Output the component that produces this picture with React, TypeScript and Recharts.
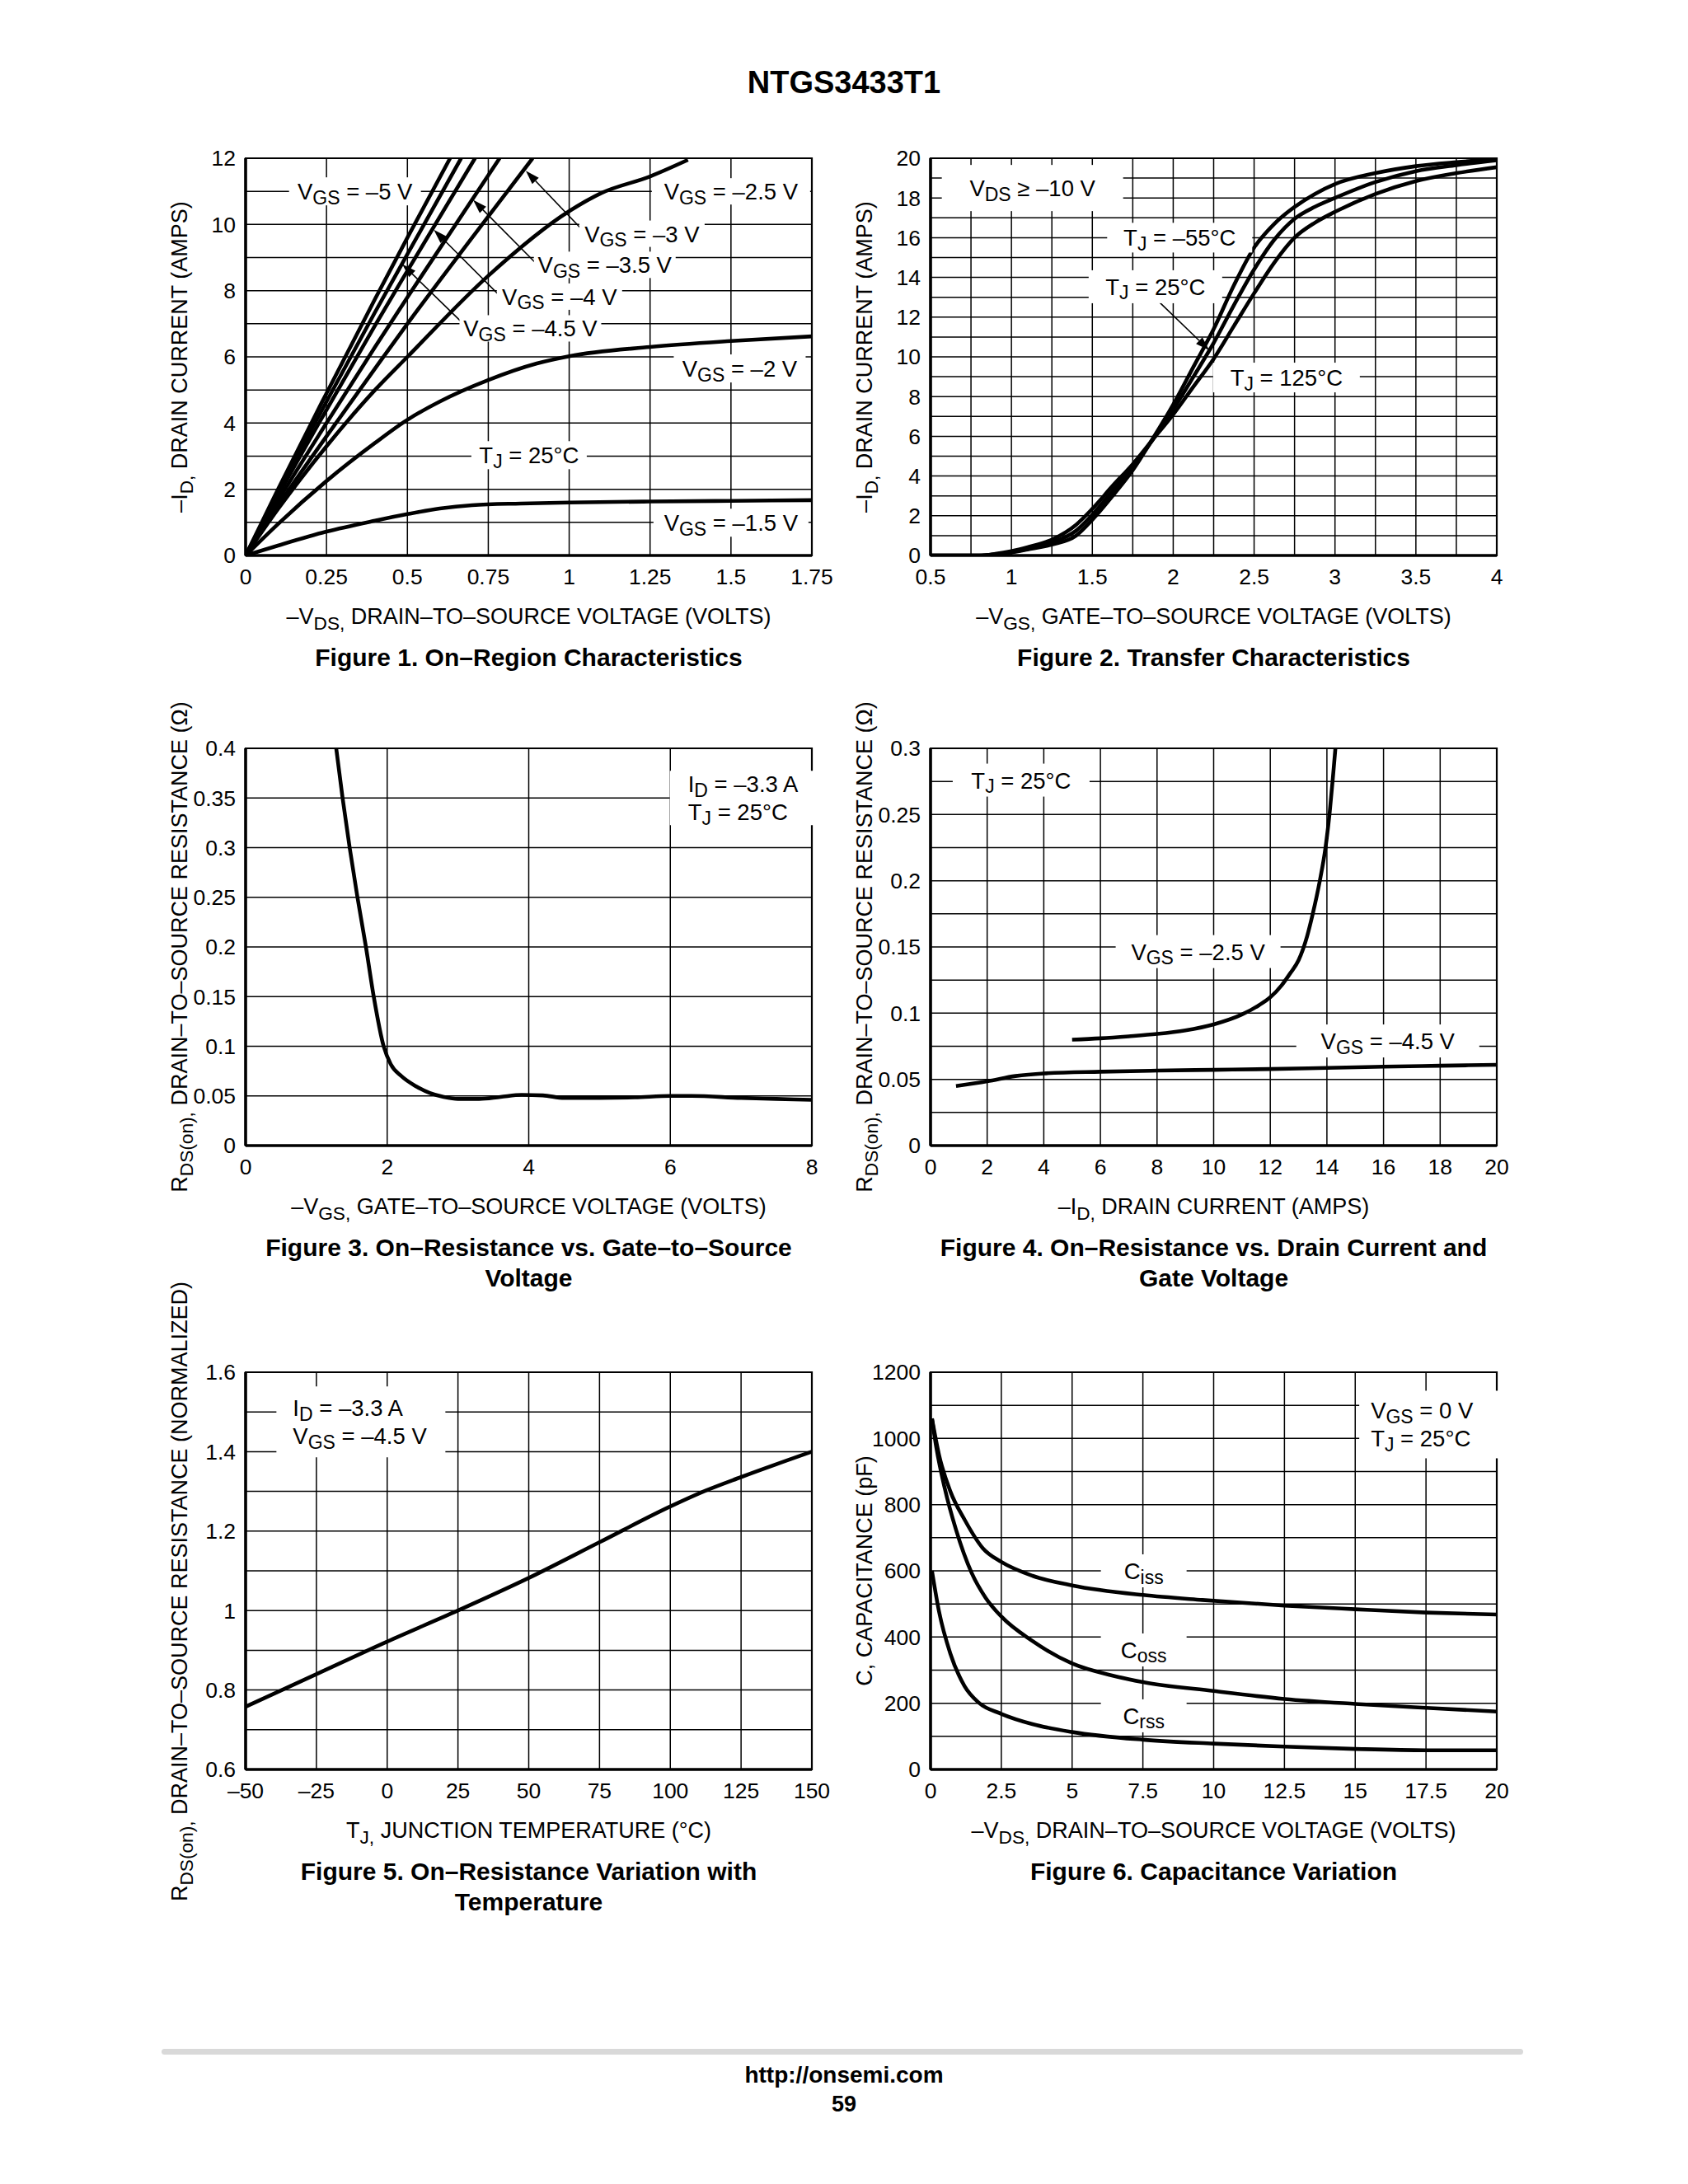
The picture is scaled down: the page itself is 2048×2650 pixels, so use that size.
import React from 'react';
import {
  LineChart,
  Line,
  XAxis,
  YAxis,
  CartesianGrid,
  ReferenceArea,
  ReferenceDot,
  ReferenceLine,
} from 'recharts';

const FONT = '"Liberation Sans", Arial, Helvetica, sans-serif';
const FS = 27.5;
const SUB_FS = 23;
const SUB_DY = 7.5;
const TITLE_FS = 27;

// ---------- Figure 1: On-Region Characteristics (-VDS, -ID)
const fig1XTicks = [0, 0.25, 0.5, 0.75, 1, 1.25, 1.5, 1.75];
const fig1YTicks = [0, 1, 2, 3, 4, 5, 6, 7, 8, 9, 10, 11, 12];
const fig1YLabels = [0, 2, 4, 6, 8, 10, 12];
const fig1Vgs50 = [[0, 0], [0.1, 2.0], [0.25, 4.9], [0.4, 7.75], [0.5, 9.6], [0.632, 12]];
const fig1Vgs45 = [[0, 0], [0.1, 1.9], [0.25, 4.65], [0.4, 7.35], [0.5, 9.1], [0.666, 12]];
const fig1Vgs40 = [[0, 0], [0.1, 1.8], [0.25, 4.4], [0.4, 6.95], [0.5, 8.6], [0.709, 12]];
const fig1Vgs35 = [[0, 0], [0.1, 1.65], [0.25, 4.0], [0.4, 6.3], [0.5, 7.8], [0.785, 12]];
const fig1Vgs30 = [[0, 0], [0.1, 1.5], [0.25, 3.6], [0.4, 5.65], [0.5, 7.0], [0.7, 9.6], [0.887, 12]];
const fig1Vgs25 = [[0, 0], [0.1, 1.4], [0.25, 3.3], [0.4, 5.0], [0.5, 6.0], [0.75, 8.45], [1.0, 10.4], [1.1, 10.95], [1.25, 11.45], [1.367, 11.95]];
const fig1Vgs20 = [[0, 0], [0.1, 0.95], [0.25, 2.25], [0.4, 3.4], [0.5, 4.1], [0.6, 4.65], [0.75, 5.3], [0.9, 5.8], [1.0, 6.02], [1.25, 6.3], [1.5, 6.48], [1.75, 6.62]];
const fig1Vgs15 = [[0, 0], [0.1, 0.3], [0.25, 0.72], [0.4, 1.05], [0.5, 1.25], [0.6, 1.42], [0.7, 1.52], [0.85, 1.57], [1.0, 1.6], [1.25, 1.63], [1.5, 1.65], [1.75, 1.67]];

// ---------- Figure 2: Transfer Characteristics (-VGS, -ID)
const fig2XTicks = [0.5, 0.75, 1, 1.25, 1.5, 1.75, 2, 2.25, 2.5, 2.75, 3, 3.25, 3.5, 3.75, 4];
const fig2XLabels = [0.5, 1, 1.5, 2, 2.5, 3, 3.5, 4];
const fig2YTicks = [0, 1, 2, 3, 4, 5, 6, 7, 8, 9, 10, 11, 12, 13, 14, 15, 16, 17, 18, 19, 20];
const fig2YLabels = [0, 2, 4, 6, 8, 10, 12, 14, 16, 18, 20];
const fig2TjM55 = [[0.5, 0], [0.8, 0], [0.9, 0.05], [1.0, 0.15], [1.1, 0.3], [1.25, 0.55], [1.4, 1.0], [1.5, 1.8], [1.625, 3.0], [1.75, 4.3], [1.875, 5.9], [2.0, 7.6], [2.125, 9.5], [2.25, 11.4], [2.375, 13.6], [2.5, 15.5], [2.625, 16.7], [2.75, 17.55], [2.875, 18.2], [3.0, 18.7], [3.25, 19.25], [3.5, 19.6], [3.75, 19.8], [4.0, 19.95]];
const fig2Tj25 = [[0.5, 0], [0.8, 0], [0.9, 0.06], [1.0, 0.17], [1.1, 0.33], [1.25, 0.65], [1.4, 1.25], [1.5, 2.05], [1.625, 3.25], [1.75, 4.45], [1.875, 5.85], [2.0, 7.35], [2.125, 9.0], [2.25, 10.7], [2.375, 12.6], [2.5, 14.4], [2.625, 15.9], [2.75, 16.95], [2.875, 17.55], [3.0, 18.0], [3.25, 18.8], [3.5, 19.35], [3.75, 19.65], [4.0, 19.9]];
const fig2Tj125 = [[0.5, 0], [0.8, 0], [0.9, 0.08], [1.0, 0.22], [1.1, 0.42], [1.25, 0.8], [1.4, 1.55], [1.5, 2.35], [1.625, 3.5], [1.75, 4.6], [1.875, 5.85], [2.0, 7.1], [2.125, 8.5], [2.25, 9.9], [2.375, 11.55], [2.5, 13.2], [2.625, 14.75], [2.75, 16.0], [2.875, 16.75], [3.0, 17.3], [3.25, 18.2], [3.5, 18.85], [3.75, 19.25], [4.0, 19.55]];

// ---------- Figure 3: On-Resistance vs. Gate-to-Source Voltage
const fig3XTicks = [0, 2, 4, 6, 8];
const fig3YTicks = [0, 0.05, 0.1, 0.15, 0.2, 0.25, 0.3, 0.35, 0.4];
const fig3Rds = [[1.28, 0.4], [1.37, 0.35], [1.47, 0.3], [1.58, 0.25], [1.7, 0.2], [1.81, 0.15], [1.95, 0.1], [2.05, 0.082], [2.2, 0.07], [2.4, 0.06], [2.6, 0.053], [2.8, 0.049], [3.0, 0.047], [3.3, 0.047], [3.6, 0.049], [3.9, 0.051], [4.2, 0.0505], [4.5, 0.048], [5.0, 0.048], [5.5, 0.0485], [6.0, 0.05], [6.3, 0.05], [7.0, 0.048], [7.5, 0.047], [8.0, 0.046]];

// ---------- Figure 4: On-Resistance vs. Drain Current and Gate Voltage
const fig4XTicks = [0, 2, 4, 6, 8, 10, 12, 14, 16, 18, 20];
const fig4YTicks = [0, 0.025, 0.05, 0.075, 0.1, 0.125, 0.15, 0.175, 0.2, 0.225, 0.25, 0.275, 0.3];
const fig4YLabels = [0, 0.05, 0.1, 0.15, 0.2, 0.25, 0.3];
const fig4Vgs45 = [[0.9, 0.045], [2.0, 0.0485], [3.0, 0.0525], [4.0, 0.0545], [6.0, 0.0558], [8.0, 0.0566], [10.0, 0.0572], [12.0, 0.0578], [14.0, 0.0587], [16.0, 0.0596], [18.0, 0.0603], [20.0, 0.061]];
const fig4Vgs25 = [[5.0, 0.08], [6.0, 0.081], [7.0, 0.0825], [8.0, 0.0843], [9.0, 0.087], [10.0, 0.0915], [11.0, 0.099], [11.6, 0.106], [12.0, 0.112], [12.4, 0.121], [12.7, 0.13], [13.0, 0.14], [13.3, 0.158], [13.5, 0.175], [13.75, 0.2], [13.95, 0.225], [14.1, 0.252], [14.22, 0.28], [14.3, 0.3]];

// ---------- Figure 5: On-Resistance Variation with Temperature
const fig5XTicks = [-50, -25, 0, 25, 50, 75, 100, 125, 150];
const fig5YTicks = [0.6, 0.7, 0.8, 0.9, 1, 1.1, 1.2, 1.3, 1.4, 1.5, 1.6];
const fig5YLabels = [0.6, 0.8, 1, 1.2, 1.4, 1.6];
const fig5Rds = [[-50, 0.758], [-25, 0.84], [0, 0.922], [25, 1.0], [50, 1.082], [75, 1.172], [100, 1.262], [112.5, 1.302], [125, 1.336], [150, 1.4]];

// ---------- Figure 6: Capacitance Variation
const fig6XTicks = [0, 2.5, 5, 7.5, 10, 12.5, 15, 17.5, 20];
const fig6YTicks = [0, 100, 200, 300, 400, 500, 600, 700, 800, 900, 1000, 1100, 1200];
const fig6YLabels = [0, 200, 400, 600, 800, 1000, 1200];
const fig6Ciss = [[0.05, 1060], [0.3, 950], [0.7, 840], [1.2, 755], [1.85, 668], [2.5, 627], [3.6, 585], [5.0, 556], [7.5, 527], [9.6, 512], [12.5, 495], [15, 484], [17.5, 474], [20, 468]];
const fig6Coss = [[0.05, 1060], [0.2, 975], [0.5, 850], [0.9, 724], [1.45, 594], [1.95, 518], [2.5, 462], [3.6, 388], [5.0, 320], [6.5, 282], [7.5, 264], [10, 237], [12.5, 213], [15, 198], [17.5, 186], [20, 175]];
const fig6Crss = [[0.05, 600], [0.3, 477], [0.7, 350], [1.2, 252], [1.7, 202], [2.5, 168], [3.6, 137], [5.0, 113], [7.5, 90], [10, 78], [12.5, 69], [15, 62], [17.5, 58], [20, 58]];

// ---------- layout
const PW = 687;
const PH = 482;
const PAD_L = 100;
const PAD_T = 20;
const PAD_R = 44;
const PAD_B = 52;
const Y_AXIS_W = 70;
const X_AXIS_H = 42;
const LINE_GAP = 34;

const TICK = { fontSize: 26.5, fill: '#000', fontFamily: FONT };

interface Note {
  x: number;
  y: number;
  text: string[];
  w: number;
  h: number;
  anchor?: 'start' | 'middle';
  pad?: number;
}
interface Arrow {
  from: number[];
  to: number[];
}

const fmt = (labels: number[]) => (v: number) =>
  labels.includes(v) ? String(v).replace('-', '–') : '';

// "V_GS_ = 1" -> V + subscript GS + " = 1"
const Rich = ({ s }: { s: string }) => (
  <>
    {s.split('_').map((seg, i) =>
      i % 2 === 1 ? (
        <span key={i} style={{ fontSize: '0.84em', position: 'relative', top: '0.3em' }}>
          {seg}
        </span>
      ) : (
        <span key={i}>{seg}</span>
      ),
    )}
  </>
);

const svgRich = (s: string) =>
  s.split('_').map((seg, i) => (
    <tspan key={i} fontSize={i % 2 ? SUB_FS : FS} dy={i === 0 ? 0 : i % 2 ? SUB_DY : -SUB_DY}>
      {seg}
    </tspan>
  ));

const NoteBox = ({ cx, cy, n }: { cx: number; cy: number; n: Note }) => {
  const anchor = n.anchor ?? 'middle';
  const bx = anchor === 'start' ? cx - (n.pad ?? 10) : cx - n.w / 2;
  return (
    <g>
      <rect x={bx} y={cy - n.h / 2} width={n.w} height={n.h} fill="#fff" />
      {n.text.map((t, i) => (
        <text
          key={i}
          x={cx}
          y={cy + (i - (n.text.length - 1) / 2) * LINE_GAP}
          textAnchor={anchor}
          dominantBaseline="central"
          fontFamily={FONT}
          fontSize={FS}
          fill="#000"
          style={{ whiteSpace: 'pre' }}
        >
          {svgRich(t)}
        </text>
      ))}
    </g>
  );
};

// leader line: tail at (x1,y1), arrow head at (x2,y2)
const ArrowShape = (p: any) => {
  const { x1, y1, x2, y2 } = p;
  const ang = Math.atan2(y2 - y1, x2 - x1);
  const L = 17;
  const W = 5.5;
  const bx = x2 - L * Math.cos(ang);
  const by = y2 - L * Math.sin(ang);
  const px = -Math.sin(ang) * W;
  const py = Math.cos(ang) * W;
  return (
    <g>
      <line x1={x1} y1={y1} x2={bx} y2={by} stroke="#000" strokeWidth={1.6} />
      <polygon points={`${x2},${y2} ${bx + px},${by + py} ${bx - px},${by - py}`} fill="#000" />
    </g>
  );
};

const abs: React.CSSProperties = {
  position: 'absolute',
  whiteSpace: 'nowrap',
  lineHeight: 1,
  fontFamily: FONT,
  color: '#000',
};

interface PanelProps {
  left: number;
  top: number;
  xDomain: [number, number];
  yDomain: [number, number];
  xTicks: number[];
  xLabels: number[];
  yTicks: number[];
  yLabels: number[];
  series: number[][][];
  notes: Note[];
  arrows?: Arrow[];
  xTitle: string;
  yTitle: string;
  yTitleShift?: number;
  caption: string[];
}

function Panel(p: PanelProps) {
  const midX = p.left + PW / 2;
  const bottom = p.top + PH;
  return (
    <>
      <div style={{ position: 'absolute', left: p.left - PAD_L, top: p.top - PAD_T }}>
        <LineChart
          width={PW + PAD_L + PAD_R}
          height={PH + PAD_T + PAD_B}
          margin={{ top: PAD_T, right: PAD_R, bottom: PAD_B - X_AXIS_H, left: PAD_L - Y_AXIS_W }}
        >
          <CartesianGrid stroke="#000" strokeWidth={1.5} />
          <XAxis
            type="number"
            dataKey="x"
            domain={p.xDomain}
            ticks={p.xTicks}
            interval={0}
            allowDataOverflow
            height={X_AXIS_H}
            tickLine={false}
            tickSize={0}
            tickMargin={16}
            axisLine={{ stroke: '#000', strokeWidth: 3.6 }}
            tick={TICK}
            tickFormatter={fmt(p.xLabels)}
          />
          <YAxis
            type="number"
            dataKey="y"
            domain={p.yDomain}
            ticks={p.yTicks}
            interval={0}
            allowDataOverflow
            width={Y_AXIS_W}
            tickLine={false}
            tickSize={0}
            tickMargin={12}
            axisLine={{ stroke: '#000', strokeWidth: 3.6 }}
            tick={TICK}
            tickFormatter={fmt(p.yLabels)}
          />
          {(p.arrows ?? []).map((a, i) => (
            <ReferenceLine
              key={`a${i}`}
              segment={[
                { x: a.from[0], y: a.from[1] },
                { x: a.to[0], y: a.to[1] },
              ]}
              shape={ArrowShape}
              ifOverflow="visible"
            />
          ))}
          {p.notes.map((n, i) => (
            <ReferenceDot
              key={`n${i}`}
              x={n.x}
              y={n.y}
              r={1}
              ifOverflow="visible"
              shape={(d: any) => <NoteBox cx={d.cx} cy={d.cy} n={n} />}
            />
          ))}
          {p.series.map((s, i) => (
            <Line
              key={`s${i}`}
              data={s.map(([x, y]) => ({ x, y }))}
              dataKey="y"
              type="monotone"
              stroke="#000"
              strokeWidth={4.6}
              dot={false}
              activeDot={false}
              isAnimationActive={false}
            />
          ))}
          <ReferenceArea
            x1={p.xDomain[0]}
            x2={p.xDomain[1]}
            y1={p.yDomain[0]}
            y2={p.yDomain[1]}
            fill="none"
            stroke="#000"
            strokeWidth={2.2}
            ifOverflow="visible"
          />
        </LineChart>
      </div>
      <div style={{ ...abs, left: midX, top: bottom + 74, transform: 'translate(-50%, -50%)', fontSize: TITLE_FS }}>
        <Rich s={p.xTitle} />
      </div>
      <div
        style={{
          ...abs,
          left: p.left - 80,
          top: p.top + PH / 2 + (p.yTitleShift ?? 0),
          transform: 'translate(-50%, -50%) rotate(-90deg)',
          fontSize: TITLE_FS,
        }}
      >
        <Rich s={p.yTitle} />
      </div>
      {p.caption.map((c, i) => (
        <div
          key={i}
          style={{
            ...abs,
            left: midX,
            top: bottom + 124 + i * 37,
            transform: 'translate(-50%, -50%)',
            fontSize: 30,
            fontWeight: 'bold',
          }}
        >
          {c}
        </div>
      ))}
    </>
  );
}

const COL_L = 298;
const COL_R = 1129;
const ROW_1 = 192;
const ROW_2 = 908;
const ROW_3 = 1665;

export default function App() {
  return (
    <div
      style={{
        position: 'absolute',
        left: 0,
        top: 0,
        width: 2048,
        height: 2650,
        background: '#fff',
        overflow: 'hidden',
        fontFamily: FONT,
      }}
    >
      <div style={{ ...abs, left: 1024, top: 100, transform: 'translate(-50%, -50%)', fontSize: 38, fontWeight: 'bold' }}>
        NTGS3433T1
      </div>

      <Panel
        left={COL_L}
        top={ROW_1}
        xDomain={[0, 1.75]}
        yDomain={[0, 12]}
        xTicks={fig1XTicks}
        xLabels={fig1XTicks}
        yTicks={fig1YTicks}
        yLabels={fig1YLabels}
        series={[fig1Vgs50, fig1Vgs45, fig1Vgs40, fig1Vgs35, fig1Vgs30, fig1Vgs25, fig1Vgs20, fig1Vgs15]}
        notes={[
          { x: 0.338, y: 11, text: ['V_GS_ = –5 V'], w: 160, h: 34 },
          { x: 1.5, y: 11, text: ['V_GS_ = –2.5 V'], w: 192, h: 32 },
          { x: 1.225, y: 9.72, text: ['V_GS_ = –3 V'], w: 152, h: 32 },
          { x: 1.11, y: 8.78, text: ['V_GS_ = –3.5 V'], w: 172, h: 32 },
          { x: 0.97, y: 7.82, text: ['V_GS_ = –4 V'], w: 152, h: 32 },
          { x: 0.88, y: 6.86, text: ['V_GS_ = –4.5 V'], w: 172, h: 32 },
          { x: 0.876, y: 3.03, text: ['T_J_ = 25°C'], w: 140, h: 34 },
          { x: 1.527, y: 5.65, text: ['V_GS_ = –2 V'], w: 160, h: 34 },
          { x: 1.5, y: 0.99, text: ['V_GS_ = –1.5 V'], w: 188, h: 34 },
        ]}
        arrows={[
          { from: [1.048, 9.76], to: [0.866, 11.62] },
          { from: [0.9, 8.8], to: [0.703, 10.74] },
          { from: [0.781, 7.89], to: [0.5815, 9.84] },
          { from: [0.675, 6.98], to: [0.484, 8.8] },
        ]}
        xTitle="–V_DS,_ DRAIN–TO–SOURCE VOLTAGE (VOLTS)"
        yTitle="–I_D,_ DRAIN CURRENT (AMPS)"
        caption={['Figure 1. On–Region Characteristics']}
      />

      <Panel
        left={COL_R}
        top={ROW_1}
        xDomain={[0.5, 4]}
        yDomain={[0, 20]}
        xTicks={fig2XTicks}
        xLabels={fig2XLabels}
        yTicks={fig2YTicks}
        yLabels={fig2YLabels}
        series={[fig2TjM55, fig2Tj25, fig2Tj125]}
        notes={[
          { x: 1.13, y: 18.5, text: ['V_DS_ ≥ –10 V'], w: 220, h: 56 },
          { x: 2.04, y: 16, text: ['T_J_ = –55°C'], w: 176, h: 36 },
          { x: 1.89, y: 13.53, text: ['T_J_ = 25°C'], w: 162, h: 40 },
          { x: 2.7, y: 8.96, text: ['T_J_ = 125°C'], w: 178, h: 36 },
        ]}
        arrows={[{ from: [1.896, 12.9], to: [2.223, 10.33] }]}
        xTitle="–V_GS,_ GATE–TO–SOURCE VOLTAGE (VOLTS)"
        yTitle="–I_D,_ DRAIN CURRENT (AMPS)"
        caption={['Figure 2. Transfer Characteristics']}
      />

      <Panel
        left={COL_L}
        top={ROW_2}
        xDomain={[0, 8]}
        yDomain={[0, 0.4]}
        xTicks={fig3XTicks}
        xLabels={fig3XTicks}
        yTicks={fig3YTicks}
        yLabels={fig3YTicks}
        series={[fig3Rds]}
        notes={[
          { x: 6.25, y: 0.35, text: ['I_D_ = –3.3 A', 'T_J_ = 25°C'], w: 178, h: 66, anchor: 'start', pad: 22 },
        ]}
        xTitle="–V_GS,_ GATE–TO–SOURCE VOLTAGE (VOLTS)"
        yTitle="R_DS(on),_ DRAIN–TO–SOURCE RESISTANCE (Ω)"
        caption={['Figure 3. On–Resistance vs. Gate–to–Source', 'Voltage']}
      />

      <Panel
        left={COL_R}
        top={ROW_2}
        xDomain={[0, 20]}
        yDomain={[0, 0.3]}
        xTicks={fig4XTicks}
        xLabels={fig4XTicks}
        yTicks={fig4YTicks}
        yLabels={fig4YLabels}
        series={[fig4Vgs25, fig4Vgs45]}
        notes={[
          { x: 3.2, y: 0.276, text: ['T_J_ = 25°C'], w: 166, h: 40 },
          { x: 9.45, y: 0.1465, text: ['V_GS_ = –2.5 V'], w: 200, h: 40 },
          { x: 16.15, y: 0.079, text: ['V_GS_ = –4.5 V'], w: 222, h: 40 },
        ]}
        xTitle="–I_D,_ DRAIN CURRENT (AMPS)"
        yTitle="R_DS(on),_ DRAIN–TO–SOURCE RESISTANCE (Ω)"
        caption={['Figure 4. On–Resistance vs. Drain Current and', 'Gate Voltage']}
      />

      <Panel
        left={COL_L}
        top={ROW_3}
        xDomain={[-50, 150]}
        yDomain={[0.6, 1.6]}
        xTicks={fig5XTicks}
        xLabels={fig5XTicks}
        yTicks={fig5YTicks}
        yLabels={fig5YLabels}
        series={[fig5Rds]}
        notes={[
          { x: -33.3, y: 1.475, text: ['I_D_ = –3.3 A', 'V_GS_ = –4.5 V'], w: 205, h: 86, anchor: 'start', pad: 20 },
        ]}
        xTitle="T_J,_ JUNCTION TEMPERATURE (°C)"
        yTitle="R_DS(on),_ DRAIN–TO–SOURCE RESISTANCE (NORMALIZED)"
        yTitleShift={25}
        caption={['Figure 5. On–Resistance Variation with', 'Temperature']}
      />

      <Panel
        left={COL_R}
        top={ROW_3}
        xDomain={[0, 20]}
        yDomain={[0, 1200]}
        xTicks={fig6XTicks}
        xLabels={fig6XTicks}
        yTicks={fig6YTicks}
        yLabels={fig6YLabels}
        series={[fig6Ciss, fig6Coss, fig6Crss]}
        notes={[
          { x: 15.55, y: 1042, text: ['V_GS_ = 0 V', 'T_J_ = 25°C'], w: 176, h: 82, anchor: 'start', pad: 14 },
          { x: 7.53, y: 600, text: ['C_iss_'], w: 104, h: 40 },
          { x: 7.53, y: 361, text: ['C_oss_'], w: 104, h: 40 },
          { x: 7.53, y: 162, text: ['C_rss_'], w: 104, h: 40 },
        ]}
        xTitle="–V_DS,_ DRAIN–TO–SOURCE VOLTAGE (VOLTS)"
        yTitle="C, CAPACITANCE (pF)"
        caption={['Figure 6. Capacitance Variation']}
      />

      <div
        style={{
          position: 'absolute',
          left: 196,
          top: 2486,
          width: 1652,
          height: 7,
          borderRadius: 4,
          background: '#d9d9d9',
        }}
      />
      <div style={{ ...abs, left: 1024, top: 2518, transform: 'translate(-50%, -50%)', fontSize: 28, fontWeight: 'bold' }}>
        http://onsemi.com
      </div>
      <div style={{ ...abs, left: 1024, top: 2553, transform: 'translate(-50%, -50%)', fontSize: 27, fontWeight: 'bold' }}>
        59
      </div>
    </div>
  );
}
